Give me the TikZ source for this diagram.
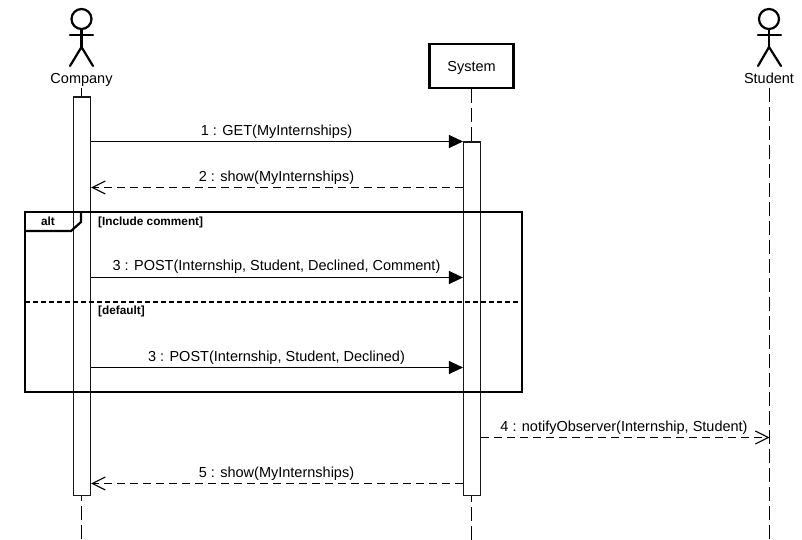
\documentclass[tikz,border=0pt]{standalone}
\usepackage{fontspec}
\setmainfont{Liberation Sans}
\usetikzlibrary{arrows.meta}
\tikzset{
  x=1pt,y=-1pt,
  actorline/.style={line width=2.2pt,line cap=round},
  lifeline/.style={line width=1.3pt,dash pattern=on 14pt off 5pt},
  activation/.style={draw=black!90,fill=white,line width=1.1pt,minimum width=17pt,inner sep=0pt,anchor=north},
  objbox/.style={draw=black,fill=white,line width=2.4pt,minimum width=84pt,minimum height=44pt,inner sep=0pt,font=\fontsize{14.5}{14.5}\selectfont},
  msgtext/.style={anchor=base,inner sep=0pt,font=\fontsize{14.5}{14.5}\selectfont},
  tagtext/.style={anchor=base west,inner sep=0pt,font=\fontsize{11.8}{12}\bfseries\selectfont},
  framebox/.style={line width=2.2pt},
  callmsg/.style={line width=1.1pt,-{Triangle[length=14pt,width=13pt]}},
  retmsg/.style={line width=1.2pt,dash pattern=on 8pt off 5pt,-{Straight Barb[length=13pt,width=13pt,line width=1.1pt]}},
}
\begin{document}
\begin{tikzpicture}
\useasboundingbox (0,0) rectangle (802,540);
% Actors
\node[draw,circle,line width=2.2pt,minimum size=20pt,inner sep=0pt] (chead) at (81.5,19) {};
\coordinate (chip) at (81.5,47);
\draw[actorline] (chead.south) -- (chip);
\draw[actorline] (70,35) -- (93,35);
\draw[actorline] (70,66) -- (chip) -- (93,66);
\node[msgtext] (clabel) at (81.5,84) {Company};
\node[draw,circle,line width=2.2pt,minimum size=20pt,inner sep=0pt] (shead) at (769,19) {};
\coordinate (ship) at (769,47);
\draw[actorline] (shead.south) -- (ship);
\draw[actorline] (758,35) -- (781,35);
\draw[actorline] (758,66) -- (ship) -- (781,66);
\node[msgtext] (stlabel) at (769,84) {Student};
% System
\node[objbox] (sys) at (471.5,66) {\raisebox{-6pt}[0pt][0pt]{System}};
% Lifeline ends
\coordinate (ctop) at (81.5,88);
\coordinate (cend) at (81.5,540);
\coordinate (stop) at (769.5,88);
\coordinate (stend) at (769.5,540);
\coordinate (send) at (471.5,540);
% Activations
\draw[lifeline] (sys.south) -- (send);
\draw[lifeline] (ctop) -- (cend);
\draw[lifeline] (stop) -- (stend);
\node[activation,minimum height=398pt] (cact) at (82,96.5) {};
\node[activation,minimum height=353pt] (sact) at (472,141.5) {};
% Frame
\coordinate (ftl) at (25,212);
\coordinate (fbr) at (522,392);
\draw[framebox] (ftl) rectangle (fbr);
\draw[framebox] (81,212) -- (81,222) -- (71,231) -- (25,231);
\draw[framebox,dash pattern=on 5pt off 3pt] (25,302) -- (522,302);
\node[tagtext,anchor=base] (alt) at (48,225) {alt};
\node[tagtext] (g1) at (98,225) {[Include comment]};
\node[tagtext] (g2) at (98,314) {[default]};
% Message rows
\coordinate (m1) at (0,141.5);
\coordinate (m2) at (0,187.5);
\coordinate (m3) at (0,277.5);
\coordinate (m4) at (0,367.5);
\coordinate (m5) at (0,437.5);
\coordinate (m6) at (0,483.5);
\draw[callmsg] (cact.east |- m1) -- (sact.west |- m1);
\draw[retmsg] (sact.west |- m2) -- (cact.east |- m2);
\draw[callmsg] (cact.east |- m3) -- (sact.west |- m3);
\draw[callmsg] (cact.east |- m4) -- (sact.west |- m4);
\draw[retmsg] (sact.east |- m5) -- (stend |- m5);
\draw[retmsg] (sact.west |- m6) -- (cact.east |- m6);
\node[msgtext] (t1) at (276.5,136) {1 : GET(MyInternships)};
\node[msgtext] (t2) at (276.5,181) {2 : show(MyInternships)};
\node[msgtext] (t3) at (276.5,270) {3 : POST(Internship, Student, Declined, Comment)};
\node[msgtext] (t4) at (276.5,361) {3 : POST(Internship, Student, Declined)};
\node[msgtext] (t5) at (624,431) {4 : notifyObserver(Internship, Student)};
\node[msgtext] (t6) at (276.5,477) {5 : show(MyInternships)};
\end{tikzpicture}
\end{document}
